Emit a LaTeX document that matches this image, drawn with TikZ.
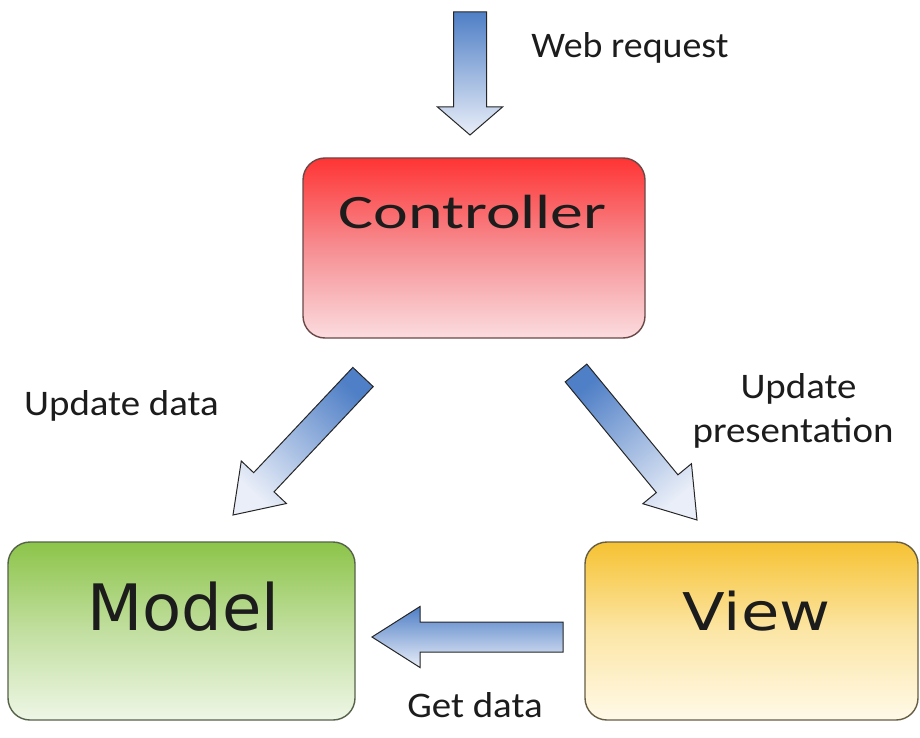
\documentclass[tikz,border=0pt]{standalone}
\usepackage{fontspec}
\setmainfont{Carlito}
\newfontfamily\boxfont{DejaVu Sans}
\usetikzlibrary{calc}
\definecolor{arrblue}{HTML}{4F7FC6}
\definecolor{arrlight}{HTML}{E9EEF8}
\definecolor{txt}{HTML}{1C1C1C}
\definecolor{ctrltop}{HTML}{FF3434}
\definecolor{ctrlmid}{HTML}{F68E92}
\definecolor{ctrlbot}{HTML}{FBDCDF}
\definecolor{ctrlline}{HTML}{6A4848}
\definecolor{modeltop}{HTML}{8CC449}
\definecolor{modelmid}{HTML}{C2DFA0}
\definecolor{modelbot}{HTML}{EEF6E6}
\definecolor{modelline}{HTML}{56634A}
\definecolor{viewtop}{HTML}{F6C232}
\definecolor{viewmid}{HTML}{FCE6A6}
\definecolor{viewbot}{HTML}{FFF9E8}
\definecolor{viewline}{HTML}{675D45}
\tikzset{
  box/.style={line width=1.4pt, rounded corners=22pt, inner sep=0pt},
  ctrlbox/.style={box, draw=ctrlline, top color=ctrltop, bottom color=ctrlbot, middle color=ctrlmid},
  modelbox/.style={box, draw=modelline, top color=modeltop, bottom color=modelbot, middle color=modelmid},
  viewbox/.style={box, draw=viewline, top color=viewtop, bottom color=viewbot, middle color=viewmid},
  arrowshade/.style={top color=arrblue, bottom color=arrlight, draw=black!85, line width=1pt, line join=miter},
  lbl/.style={text=txt, anchor=base, inner sep=0pt, xscale=1.08, font=\fontsize{36}{44}\selectfont},
  boxlbl/.style={text=txt, anchor=base, inner sep=0pt},
}
% #1 tail, #2 tip, #3 half shaft width, #4 half head width, #5 head length, #6 shading angle
\newcommand\blockarr[6]{%
  \coordinate (hb) at ($(#2)!#5!(#1)$);
  \shade[arrowshade, shading angle=#6]
    ($(#1)!#3!90:(#2)$) -- ($(hb)!#3!90:(#2)$) -- ($(hb)!#4!90:(#2)$) -- (#2)
    -- ($(hb)!#4!-90:(#2)$) -- ($(hb)!#3!-90:(#2)$) -- ($(#1)!#3!-90:(#2)$) -- cycle;
}
\begin{document}
\begin{tikzpicture}[x=1pt,y=-1pt]
\useasboundingbox[fill=white] (0,0) rectangle (920,738);
% boxes
\node[ctrlbox, minimum width=342pt, minimum height=180pt] (ctrl) at (474,248) {};
\node[boxlbl, xscale=1.37, font=\fontsize{48}{56}\selectfont] (ctrltxt) at (472.5,228) {Controller};
\node[modelbox, minimum width=347pt, minimum height=178pt] (model) at (181.5,631) {};
\node[boxlbl, font=\boxfont\fontsize{64}{72}\selectfont] (modeltxt) at (183.5,630) {Model};
\node[viewbox, minimum width=333pt, minimum height=178pt] (view) at (751.5,631) {};
\node[boxlbl, xscale=1.2, font=\boxfont\fontsize{52}{60}\selectfont] (viewtxt) at (756.5,630) {View};
% arrow end points
\coordinate (webtail) at (470,12);
\coordinate (webtip) at (470,135);
\coordinate (udtail) at (363,377);
\coordinate (udtip) at (233,515);
\coordinate (uptail) at (576,373);
\coordinate (uptip) at (697,520);
\coordinate (gdtail) at (563,637);
\coordinate (gdtip) at (372,637);
\blockarr{webtail}{webtip}{16.5pt}{32.5pt}{28pt}{0}
\blockarr{udtail}{udtip}{14pt}{31pt}{45pt}{-43}
\blockarr{uptail}{uptip}{14pt}{31.5pt}{47pt}{40}
\blockarr{gdtail}{gdtip}{15pt}{30.5pt}{48pt}{0}
% labels
\node[lbl, xscale=0.975] (weblbl) at (630,58) {Web request};
\node[lbl] (udlbl) at (121.5,415) {Update data};
\node[lbl] (uplbl1) at (798.5,398) {Update};
\node[lbl] (uplbl2) at (793,442) {presentation};
\node[lbl] (gdlbl) at (475,717) {Get data};
\end{tikzpicture}
\end{document}
